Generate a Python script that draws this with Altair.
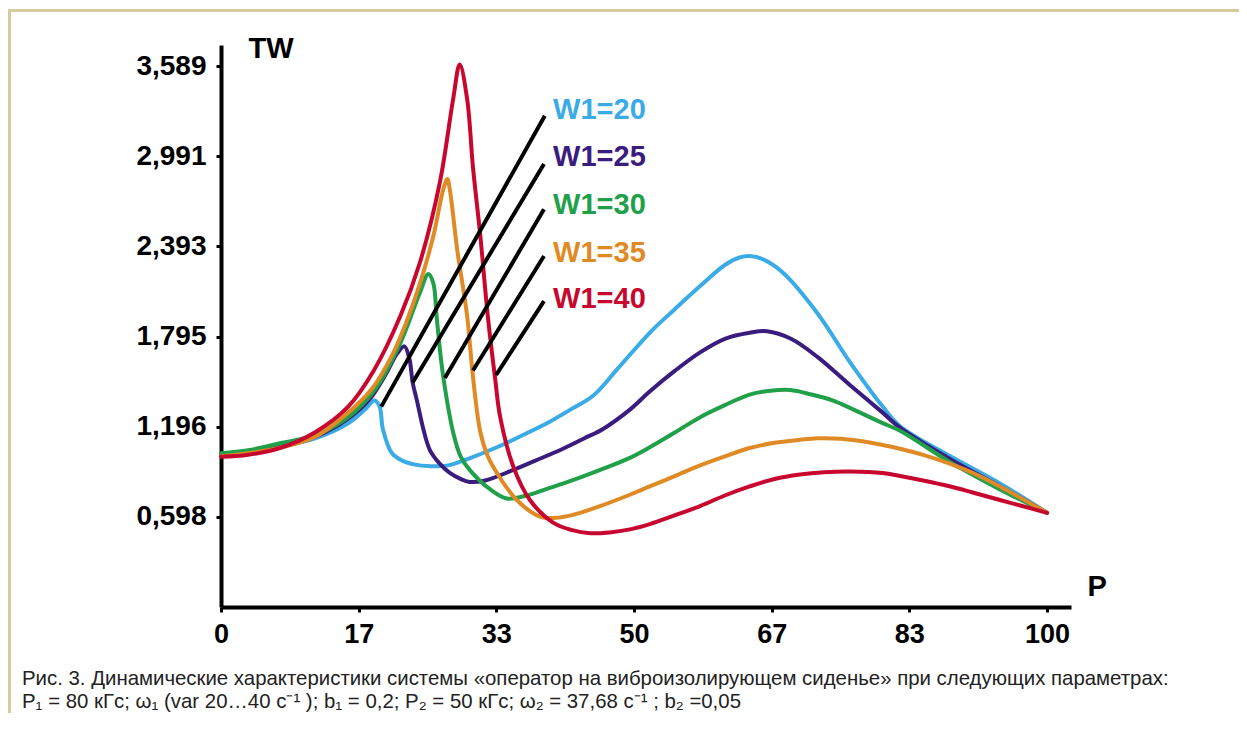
import altair as alt
import pandas as pd

# ---- data ----
series_names = ["W1=20", "W1=25", "W1=30", "W1=35", "W1=40"]
series_colors = ["#3aabe6", "#3a1c7e", "#21a04a", "#e08a26", "#c8072f"]

w20_x = [0, 3.3, 7.4, 11.4, 15.4, 17.4, 18.6, 19.2, 19.6, 20.7, 22.0, 23.5, 25.0, 27.5, 30, 33.4, 36.5, 39.8, 42.3, 45, 48, 51.9, 55, 58, 61, 62.8, 64, 65.5, 68, 72.2, 76.2, 80.1, 82.2, 88.3, 94.3, 100]
w20_y = [1.01, 1.03, 1.07, 1.12, 1.22, 1.31, 1.37, 1.33, 1.18, 1.02, 0.97, 0.945, 0.935, 0.94, 0.985, 1.06, 1.14, 1.23, 1.31, 1.40, 1.58, 1.82, 1.98, 2.13, 2.27, 2.32, 2.33, 2.31, 2.22, 1.95, 1.62, 1.33, 1.20, 1.00, 0.82, 0.625]

w25_x = [0, 3.3, 7.4, 11.4, 15.4, 18, 20, 21.3, 22.2, 22.8, 23.2, 23.7, 24.5, 25.3, 26.5, 27.7, 29, 30.1, 32, 35.4, 38, 41.4, 44, 46.2, 49.5, 51.9, 55, 58, 61, 64, 66.1, 69, 72.2, 76.2, 80.1, 82.2, 88.3, 94.3, 100]
w25_y = [1.01, 1.03, 1.07, 1.13, 1.25, 1.38, 1.55, 1.68, 1.73, 1.65, 1.49, 1.375, 1.18, 1.04, 0.95, 0.89, 0.85, 0.83, 0.84, 0.91, 0.97, 1.05, 1.12, 1.18, 1.31, 1.43, 1.57, 1.69, 1.78, 1.82, 1.83, 1.78, 1.66, 1.47, 1.29, 1.19, 0.98, 0.80, 0.625]

w30_x = [0, 3.3, 7.4, 11.4, 15.4, 18.6, 21.7, 24.1, 25.1, 25.7, 26.1, 26.5, 26.9, 28.1, 29, 30.1, 32.6, 34.6, 37, 39.8, 42.5, 45.9, 49.5, 51.9, 55, 58, 61, 64, 66.5, 68.9, 71.5, 74.1, 76.2, 80.1, 82.2, 88.3, 94.3, 100]
w30_y = [1.02, 1.04, 1.09, 1.14, 1.26, 1.44, 1.75, 2.09, 2.21, 2.15, 1.93, 1.71, 1.53, 1.16, 1.0, 0.91, 0.78, 0.72, 0.74, 0.79, 0.84, 0.91, 0.99, 1.06, 1.16, 1.26, 1.34, 1.41, 1.435, 1.44, 1.41, 1.37, 1.32, 1.22, 1.17, 0.96, 0.78, 0.625]

w35_x = [0, 3.3, 7.4, 11.4, 15.4, 18.3, 20.8, 22.5, 24.1, 25.7, 26.9, 27.4, 27.7, 28.6, 29.8, 30.5, 31.4, 32.3, 33.4, 35.8, 38.6, 40.5, 42.5, 45.9, 49.5, 51.9, 55, 58, 61, 64, 67, 70.1, 72.2, 75, 77, 80.1, 82.2, 85, 88.3, 91, 94.3, 100]
w35_y = [1.0, 1.02, 1.06, 1.13, 1.29, 1.45, 1.68, 1.90, 2.15, 2.46, 2.77, 2.84, 2.77, 2.37, 1.93, 1.53, 1.16, 1.0, 0.89, 0.71, 0.60, 0.592, 0.61, 0.67, 0.745, 0.80, 0.87, 0.94, 1.0, 1.055, 1.09, 1.11, 1.12, 1.117, 1.105, 1.075, 1.05, 1.01, 0.95, 0.89, 0.80, 0.625]

w40_x = [0, 3.3, 7.4, 11.4, 15.4, 18.5, 21.7, 24.1, 26.5, 28.1, 28.9, 29.8, 30.5, 31.4, 32.3, 33.2, 33.8, 35.4, 37.4, 40.2, 42.5, 44.7, 47, 49.5, 51.9, 55, 58, 61, 64, 67, 70.1, 73, 76.1, 80.1, 82.2, 85, 88.3, 91, 94.3, 97, 100]
w40_y = [0.997, 1.01, 1.06, 1.16, 1.33, 1.57, 1.93, 2.29, 2.82, 3.37, 3.60, 3.37, 2.92, 2.46, 1.93, 1.51, 1.26, 0.93, 0.71, 0.56, 0.51, 0.49, 0.495, 0.515, 0.55, 0.61, 0.67, 0.74, 0.80, 0.85, 0.88, 0.895, 0.90, 0.89, 0.87, 0.84, 0.80, 0.76, 0.71, 0.67, 0.625]

# leader lines (label end -> curve peak)
lead_x1 = [39.2, 39.1, 39.1, 39.1, 39.1]
lead_y1 = [3.26, 2.94, 2.64, 2.33, 2.03]
lead_x2 = [19.4, 23.2, 27.1, 30.5, 33.3]
lead_y2 = [1.33, 1.49, 1.52, 1.57, 1.54]

# curve labels
label_x = [40.2, 40.2, 40.2, 40.2, 40.2]
label_y = [3.236, 2.924, 2.611, 2.292, 1.987]

y_ticks = [0.598, 1.196, 1.795, 2.393, 2.991, 3.589]
x_ticks = [0, 100 / 6, 200 / 6, 50, 400 / 6, 500 / 6, 100]

caption1 = "Рис. 3. Динамические характеристики системы «оператор на виброизолирующем сиденье» при следующих параметрах:"
caption2 = "P₁ = 80 кГс; ω₁ (var 20…40 с⁻¹ ); b₁ = 0,2; P₂ = 50 кГс; ω₂ = 37,68 с⁻¹ ; b₂ =0,05"

# ---- build tables ----
rows = []
for name, xs, ys in zip(series_names,
                        [w20_x, w25_x, w30_x, w35_x, w40_x],
                        [w20_y, w25_y, w30_y, w35_y, w40_y]):
    for i, (xv, yv) in enumerate(zip(xs, ys)):
        rows.append({"series": name, "P": xv, "TW": yv, "order": i})
curves = pd.DataFrame(rows)

leaders = pd.DataFrame({"x1": lead_x1, "y1": lead_y1, "x2": lead_x2, "y2": lead_y2})
labels = pd.DataFrame({"series": series_names, "x": label_x, "y": label_y})

FONT = "Liberation Sans"
xs = alt.Scale(domain=[0, 102.9], nice=False, zero=False)
ys = alt.Scale(domain=[0, 3.73], nice=False, zero=False)
color = alt.Scale(domain=series_names, range=series_colors)

x_axis = alt.Axis(
    values=x_ticks, labelExpr="format(round(datum.value), 'd')",
    title="P", titleAngle=0, titleX=866, titleY=-12, titleAlign="left",
    titleBaseline="alphabetic", titleFontSize=29, titleFont=FONT, titleFontWeight="bold",
    labelFontSize=27, labelPadding=9, labelFlush=False,
)
y_axis = alt.Axis(
    values=y_ticks, labelExpr="replace(format(datum.value, '.3f'), '.', ',')",
    title="TW", titleAngle=0, titleX=27, titleY=12, titleAlign="left",
    titleBaseline="alphabetic", titleFontSize=29, titleFont=FONT, titleFontWeight="bold",
    labelFontSize=28, labelPadding=10, labelFlush=False,
)

lines = alt.Chart(curves).mark_line(strokeWidth=4, interpolate="catmull-rom", strokeCap="round", strokeJoin="round").encode(
    x=alt.X("P:Q", scale=xs, axis=x_axis),
    y=alt.Y("TW:Q", scale=ys, axis=y_axis),
    color=alt.Color("series:N", scale=color, legend=None),
    detail="series:N",
    order="order:Q",
)

leader_rules = alt.Chart(leaders).mark_rule(color="black", strokeWidth=4).encode(
    x=alt.X("x1:Q", scale=xs), y=alt.Y("y1:Q", scale=ys),
    x2="x2:Q", y2="y2:Q",
)

label_text = alt.Chart(labels).mark_text(
    align="left", baseline="alphabetic", font=FONT, fontSize=29, fontWeight="bold"
).encode(
    x=alt.X("x:Q", scale=xs), y=alt.Y("y:Q", scale=ys),
    text="series:N",
    color=alt.Color("series:N", scale=color, legend=None),
)

cap1 = alt.Chart(pd.DataFrame({"t": [caption1]})).mark_text(
    align="left", baseline="alphabetic", font=FONT, fontSize=20.4, color="#222222"
).encode(x=alt.value(-199), y=alt.value(640), text="t:N")
cap2 = alt.Chart(pd.DataFrame({"t": [caption2]})).mark_text(
    align="left", baseline="alphabetic", font=FONT, fontSize=20.4, color="#222222"
).encode(x=alt.value(-199), y=alt.value(663), text="t:N")

frame_color = "#d6cc9c"
frame_left = alt.Chart(pd.DataFrame({"a": [0]})).mark_rule(color=frame_color, strokeWidth=3).encode(
    x=alt.value(-211.5), y=alt.value(-36), y2=alt.value(668)
)
frame_top = alt.Chart(pd.DataFrame({"a": [0]})).mark_rule(color=frame_color, strokeWidth=3).encode(
    x=alt.value(-213), x2=alt.value(1018), y=alt.value(-34.5)
)

chart = alt.layer(frame_left, frame_top, lines, leader_rules, label_text, cap1, cap2).properties(
    width=850, height=562,
    autosize="none",
    padding={"left": 213, "top": 37, "right": 168, "bottom": 106},
    background="white",
).configure_view(stroke=None).configure_axis(
    grid=False, domainColor="black", domainWidth=4, tickColor="black", tickWidth=3, tickSize=5,
    labelColor="black", titleColor="black", labelFont=FONT, labelFontWeight="bold",
)

chart.save("out.html", embed_options={"renderer": "svg", "actions": False})
